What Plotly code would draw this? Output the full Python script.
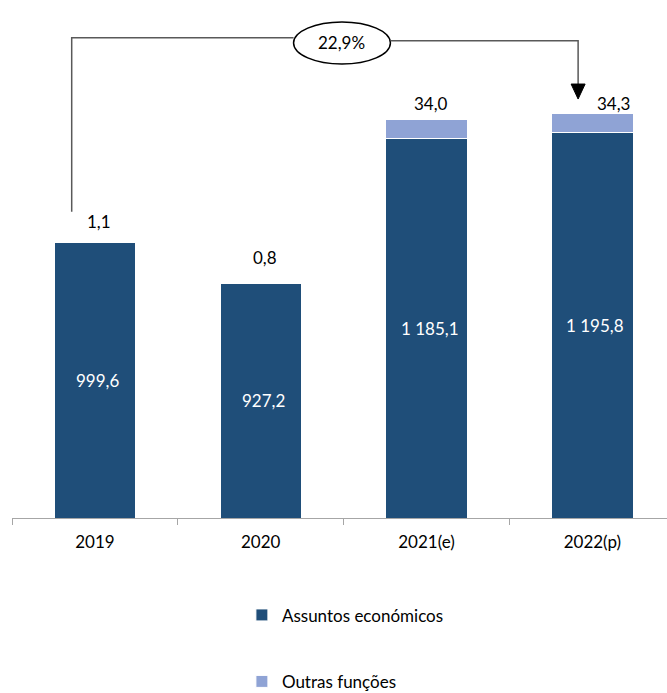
import plotly.graph_objects as go

# ---- data ----
categories = ["2019", "2020", "2021(e)", "2022(p)"]
assuntos = [999.6, 927.2, 1185.1, 1195.8]
outras = [1.1, 0.8, 34.0, 34.3]
series_names = ["Assuntos económicos", "Outras funções"]

# ---- styling ----
DARK = "#1F4E79"
LIGHT = "#8FA3D5"
FONT = "Lato"
FS = 17
Y_MIN, Y_MAX = 508.7, 1396.0
LINE_C = "#595959"

# label offsets in px (xshift, yshift) for the top labels
top_offsets = [(4, 20), (4, 25), (4, 16), (21, 10)]


def fmt(v):
    s = f"{v:,.1f}"
    return s.replace(",", " ").replace(".", ",")


totals = [a + o for a, o in zip(assuntos, outras)]
growth = totals[-1] / totals[0] - 1
growth_txt = f"{growth * 100:.1f}%".replace(".", ",")

fig = go.Figure()
fig.add_trace(go.Bar(
    x=categories, y=assuntos, name=series_names[0],
    marker=dict(color=DARK, line=dict(color="white", width=1)),
    width=0.49, hoverinfo="skip", legend="legend", showlegend=True,
))
fig.add_trace(go.Bar(
    x=categories, y=outras, name=series_names[1],
    marker=dict(color=LIGHT, line=dict(color="white", width=1)),
    width=0.49, hoverinfo="skip", legend="legend2", showlegend=True,
))

annotations = []
for i, c in enumerate(categories):
    # inside label, centred in visible part of the dark bar
    annotations.append(dict(
        x=i, y=(Y_MIN + assuntos[i]) / 2, xref="x", yref="y",
        text=fmt(assuntos[i]), showarrow=False, xshift=3,
        xanchor="center", yanchor="middle",
        font=dict(family=FONT, size=FS, color="white"),
    ))
    xs, ys = top_offsets[i]
    annotations.append(dict(
        x=i, y=totals[i], xref="x", yref="y",
        text=fmt(outras[i]), showarrow=False, xshift=xs, yshift=ys,
        xanchor="center", yanchor="middle",
        font=dict(family=FONT, size=FS, color="black"),
    ))

# growth bubble
annotations.append(dict(
    x=1.49, y=0.954, xref="x", yref="paper", text=growth_txt,
    showarrow=False, xanchor="center", yanchor="middle",
    font=dict(family=FONT, size=FS, color="black"),
))

shapes = [
    # left connector
    dict(type="path", xref="x", yref="paper",
         path="M -0.14,0.6148 L -0.14,0.9644 L 1.198,0.9644",
         line=dict(color=LINE_C, width=1.5)),
    # right connector
    dict(type="path", xref="x", yref="paper",
         path="M 1.782,0.9584 L 2.914,0.9584 L 2.914,0.8694",
         line=dict(color=LINE_C, width=1.5)),
    # arrow head
    dict(type="path", xref="x", yref="paper", xsizemode="pixel",
         ysizemode="pixel", xanchor=2.914, yanchor=0.8413,
         path="M -7,15 L 7,15 L 0,0 Z", fillcolor="black",
         line=dict(color="black", width=1)),
    # ellipse
    dict(type="circle", xref="x", yref="paper",
         x0=1.198, x1=1.782, y0=0.9116, y1=0.996,
         line=dict(color="black", width=1.5), fillcolor="white", layer="below"),
]

fig.update_layout(
    width=667, height=693,
    margin=dict(l=12, r=0, t=20, b=175.3, autoexpand=False),
    barmode="stack",
    showlegend=True,
    plot_bgcolor="white", paper_bgcolor="white",
    font=dict(family=FONT, size=FS, color="black"),
    xaxis=dict(
        type="category", range=[-0.5, 3.45],
        showline=True, linecolor="#A6A6A6", linewidth=1,
        ticks="outside", tickson="boundaries", ticklen=6, tickcolor="#A6A6A6",
        ticklabelstandoff=9,
        tickfont=dict(family=FONT, size=FS, color="black"),
        showgrid=False, fixedrange=True,
    ),
    yaxis=dict(range=[Y_MIN, Y_MAX], visible=False, showgrid=False, fixedrange=True),
    legend=dict(x=0.351, y=-0.1955, xanchor="left", yanchor="middle",
                font=dict(family=FONT, size=FS, color="black"), bgcolor="rgba(0,0,0,0)"),
    legend2=dict(x=0.351, y=-0.329, xanchor="left", yanchor="middle",
                 font=dict(family=FONT, size=FS, color="black"), bgcolor="rgba(0,0,0,0)"),
    annotations=annotations,
    shapes=shapes,
)

fig.write_html("out.html", config={"displayModeBar": False},
               post_script="document.body.style.margin='0px';")
